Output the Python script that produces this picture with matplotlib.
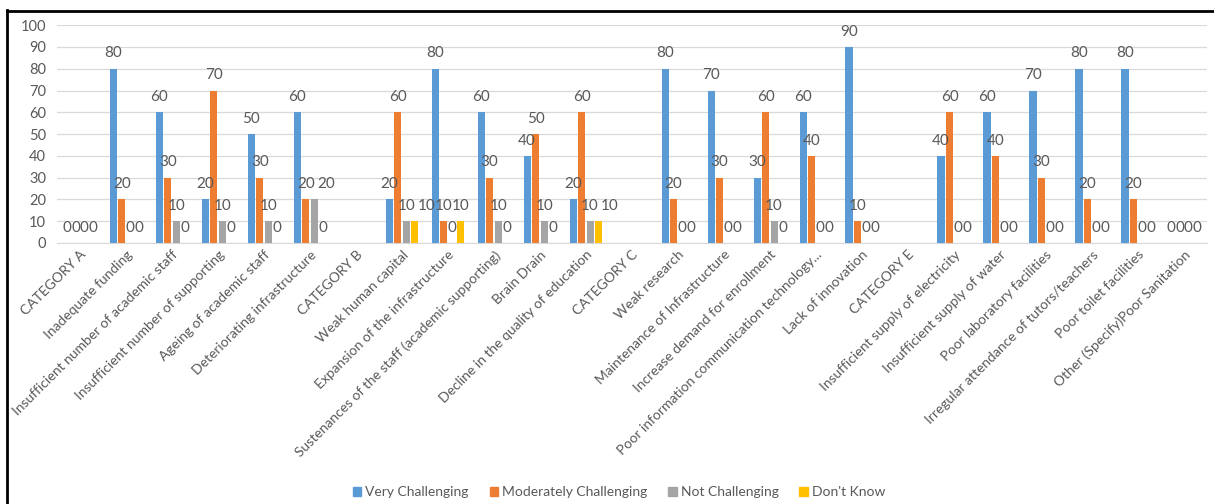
import numpy as np
import matplotlib.pyplot as plt
from matplotlib.lines import Line2D

plt.rcParams['font.family'] = ['Lato', 'DejaVu Sans']

nan = np.nan

categories = [
    'CATEGORY A', 'Inadequate funding', 'Insufficient number of academic staff',
    'Insufficient number of supporting', 'Ageing of academic staff',
    'Deteriorating infrastructure', 'CATEGORY B', 'Weak human capital',
    'Expansion of the infrastructure', 'Sustenances of the staff (academic supporting)',
    'Brain Drain', 'Decline in the quality of education', 'CATEGORY C',
    'Weak research', 'Maintenance of Infrastructure', 'Increase demand for enrollment',
    'Poor information communication technology...', 'Lack of innovation',
    'CATEGORY E', 'Insufficient supply of electricity', 'Insufficient supply of water',
    'Poor laboratory facilities', 'Irregular attendance of tutors/teachers',
    'Poor toilet facilities', 'Other (Specify)Poor Sanitation',
]

very = [0, 80, 60, 20, 50, 60, nan, 20, 80, 60, 40, 20, nan,
        80, 70, 30, 60, 90, nan, 40, 60, 70, 80, 80, 0]
moderately = [0, 20, 30, 70, 30, 20, nan, 60, 10, 30, 50, 60, nan,
              20, 30, 60, 40, 10, nan, 60, 40, 30, 20, 20, 0]
not_chal = [0, 0, 10, 10, 10, 20, nan, 10, 0, 10, 10, 10, nan,
            0, 0, 10, 0, 0, nan, 0, 0, 0, 0, 0, 0]
dont_know = [0, 0, 0, 0, 0, 0, nan, 10, 10, 0, 0, 10, nan,
             0, 0, 0, 0, 0, nan, 0, 0, 0, 0, 0, 0]

series = ['Very Challenging', 'Moderately Challenging', 'Not Challenging', "Don't Know"]
colors = ['#5B9BD5', '#ED7D31', '#A5A5A5', '#FFC000']
label_color = '#595959'

fig = plt.figure(figsize=(12.14, 5.04), dpi=100)
ax = fig.add_axes([0.047, 0.518, 0.947, 0.432])

x = np.arange(len(categories))
pitch = 0.185
width = 0.155
all_vals = [very, moderately, not_chal, dont_know]
for i, (vals, name, c) in enumerate(zip(all_vals, series, colors)):
    ax.bar(x + (i - 1.5) * pitch, vals, width=width, color=c, label=name, zorder=3)

# data labels; within a group, push a label right when it would sit on its neighbour
cat_px = 46.0          # pixels per category
digit_px = 7.5         # approx. width of one digit
for k in x:
    prev = None        # (right edge px, value) of the previous label
    for i in range(4):
        v = all_vals[i][k]
        if np.isnan(v):
            continue
        txt = f'{v:g}'
        half = len(txt) * digit_px / 2
        cx = (i - 1.5) * pitch * cat_px
        shift = 0.0
        if prev is not None and abs(prev[1] - v) < 8:
            need = prev[0] - (cx - half)
            if need > -2 and len(txt) > 1:
                shift = need + 5
            elif need > 0:
                shift = need + 1
        ax.annotate(txt, (k + (i - 1.5) * pitch, v), xytext=(shift * 0.72, 11),
                    textcoords='offset points', ha='center', va='center',
                    fontsize=11, color=label_color)
        prev = (cx + shift + half, v)

ax.set_xlim(-0.5, len(categories) - 0.5)
ax.set_ylim(0, 100)
ax.set_yticks(range(0, 101, 10))
ax.yaxis.grid(True, color='#D9D9D9', linewidth=0.9, zorder=0)
ax.tick_params(axis='y', length=0, labelsize=10.5, labelcolor=label_color, pad=8)
ax.tick_params(axis='x', length=0, labelsize=10, labelcolor=label_color, pad=4)
ax.set_xticks(x)
ax.set_xticklabels(categories, rotation=45, ha='right', rotation_mode='anchor')
for s in ['top', 'right', 'left']:
    ax.spines[s].set_visible(False)
ax.spines['bottom'].set_color('#D9D9D9')

handles = [plt.Rectangle((0, 0), 1, 1, color=c) for c in colors]
fig.legend(handles, series, loc='center', bbox_to_anchor=(0.51, 0.023), ncol=4,
           frameon=False, fontsize=10, handlelength=0.6, handleheight=0.6,
           handletextpad=0.3, columnspacing=1.5, labelcolor=label_color)

# frame lines on the left and top edges
fig.add_artist(Line2D([0.0058, 0.0058], [0, 0.98], transform=fig.transFigure,
                      color='black', linewidth=2))
fig.add_artist(Line2D([0.0058, 1], [0.979, 0.979], transform=fig.transFigure,
                      color='black', linewidth=2))

fig.savefig('out.png', dpi=100)
